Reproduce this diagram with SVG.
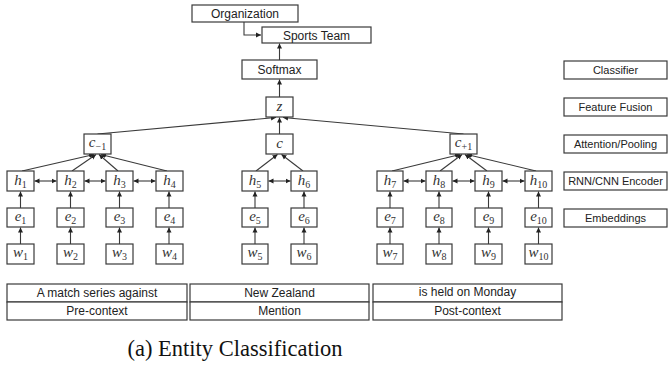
<svg xmlns="http://www.w3.org/2000/svg" width="668" height="366" viewBox="0 0 668 366">
<style>
.b{fill:#fff;stroke:#3a3a3a;stroke-width:1.2}
.t{font-family:"Liberation Sans",Arial,sans-serif;font-size:12px;fill:#222;text-anchor:middle}
.r{font-family:"Liberation Sans",Arial,sans-serif;font-size:11px;fill:#222;text-anchor:middle}
.m{font-family:"Liberation Serif","Times New Roman",serif;font-style:italic;font-size:15px;fill:#333;text-anchor:middle}
.s{font-size:10px;font-style:normal}
.cap{font-family:"Liberation Serif","Times New Roman",serif;font-size:22.5px;fill:#111;text-anchor:middle}
.l{stroke:#3a3a3a;stroke-width:1.1;fill:none}
</style>
<defs>
<marker id="a" markerUnits="userSpaceOnUse" markerWidth="6" markerHeight="6" refX="5" refY="3" orient="auto-start-reverse">
<path d="M0,0.5 L5,3 L0,5.5 z" fill="#222"/>
</marker>
</defs>

<g id="connectors">
<path class="l" d="M244,22 V35 H261" marker-end="url(#a)"/>
<line class="l" x1="279.5" y1="60" x2="279.5" y2="43.5" marker-end="url(#a)"/>
<line class="l" x1="279.5" y1="97" x2="279.5" y2="79.5" marker-end="url(#a)"/>
<line class="l" x1="97.5" y1="134" x2="276" y2="117.5" marker-end="url(#a)"/>
<line class="l" x1="279.5" y1="134" x2="279.5" y2="117.5" marker-end="url(#a)"/>
<line class="l" x1="463.5" y1="134" x2="283" y2="117.5" marker-end="url(#a)"/>
<line class="l" x1="22" y1="171" x2="94" y2="154.5" marker-end="url(#a)"/>
<line class="l" x1="72" y1="171" x2="96" y2="154.5" marker-end="url(#a)"/>
<line class="l" x1="118" y1="171" x2="99" y2="154.5" marker-end="url(#a)"/>
<line class="l" x1="167" y1="171" x2="101" y2="154.5" marker-end="url(#a)"/>
<line class="l" x1="256" y1="171" x2="277.5" y2="154.5" marker-end="url(#a)"/>
<line class="l" x1="303" y1="171" x2="281.5" y2="154.5" marker-end="url(#a)"/>
<line class="l" x1="392" y1="171" x2="460" y2="154.5" marker-end="url(#a)"/>
<line class="l" x1="440" y1="171" x2="462" y2="154.5" marker-end="url(#a)"/>
<line class="l" x1="487" y1="171" x2="465" y2="154.5" marker-end="url(#a)"/>
<line class="l" x1="536" y1="171" x2="467" y2="154.5" marker-end="url(#a)"/>
<line class="l" x1="34.5" y1="181" x2="56.5" y2="181" marker-start="url(#a)" marker-end="url(#a)"/>
<line class="l" x1="84.5" y1="181" x2="105.5" y2="181" marker-start="url(#a)" marker-end="url(#a)"/>
<line class="l" x1="133.5" y1="181" x2="155.5" y2="181" marker-start="url(#a)" marker-end="url(#a)"/>
<line class="l" x1="268.5" y1="181" x2="290.5" y2="181" marker-start="url(#a)" marker-end="url(#a)"/>
<line class="l" x1="403.5" y1="181" x2="425.5" y2="181" marker-start="url(#a)" marker-end="url(#a)"/>
<line class="l" x1="452.5" y1="181" x2="474.5" y2="181" marker-start="url(#a)" marker-end="url(#a)"/>
<line class="l" x1="502.5" y1="181" x2="524.5" y2="181" marker-start="url(#a)" marker-end="url(#a)"/>
<line class="l" x1="20.5" y1="208" x2="20.5" y2="191.5" marker-end="url(#a)"/>
<line class="l" x1="70.5" y1="208" x2="70.5" y2="191.5" marker-end="url(#a)"/>
<line class="l" x1="119.5" y1="208" x2="119.5" y2="191.5" marker-end="url(#a)"/>
<line class="l" x1="169" y1="208" x2="169" y2="191.5" marker-end="url(#a)"/>
<line class="l" x1="255" y1="208" x2="255" y2="191.5" marker-end="url(#a)"/>
<line class="l" x1="304" y1="208" x2="304" y2="191.5" marker-end="url(#a)"/>
<line class="l" x1="390" y1="208" x2="390" y2="191.5" marker-end="url(#a)"/>
<line class="l" x1="439" y1="208" x2="439" y2="191.5" marker-end="url(#a)"/>
<line class="l" x1="488.5" y1="208" x2="488.5" y2="191.5" marker-end="url(#a)"/>
<line class="l" x1="538.5" y1="208" x2="538.5" y2="191.5" marker-end="url(#a)"/>
<line class="l" x1="20.5" y1="244" x2="20.5" y2="227.5" marker-end="url(#a)"/>
<line class="l" x1="70.5" y1="244" x2="70.5" y2="227.5" marker-end="url(#a)"/>
<line class="l" x1="119.5" y1="244" x2="119.5" y2="227.5" marker-end="url(#a)"/>
<line class="l" x1="169" y1="244" x2="169" y2="227.5" marker-end="url(#a)"/>
<line class="l" x1="255" y1="244" x2="255" y2="227.5" marker-end="url(#a)"/>
<line class="l" x1="304" y1="244" x2="304" y2="227.5" marker-end="url(#a)"/>
<line class="l" x1="390" y1="244" x2="390" y2="227.5" marker-end="url(#a)"/>
<line class="l" x1="439" y1="244" x2="439" y2="227.5" marker-end="url(#a)"/>
<line class="l" x1="488.5" y1="244" x2="488.5" y2="227.5" marker-end="url(#a)"/>
<line class="l" x1="538.5" y1="244" x2="538.5" y2="227.5" marker-end="url(#a)"/>
</g>

<g id="organization"><rect class="b" x="192" y="5" width="106" height="17"/><text class="t" x="245" y="18">Organization</text></g>
<g id="sports-team"><rect class="b" x="262" y="27" width="109" height="16"/><text class="t" x="316.5" y="39.5">Sports Team</text></g>
<g id="softmax"><rect class="b" x="242" y="60" width="75" height="19"/><text class="t" x="279.5" y="74">Softmax</text></g>
<g id="z"><rect class="b" x="266" y="97" width="27" height="20"/><text class="m" x="279.5" y="111">z</text></g>
<g id="c"><rect class="b" x="266" y="134" width="27" height="20"/><text class="m" x="279.5" y="148">c</text></g>
<g id="c-1"><rect class="b" x="84" y="134" width="27" height="20"/><text class="m" x="97.5" y="147">c<tspan class="s" dy="3">−1</tspan></text></g>
<g id="c+1"><rect class="b" x="450" y="134" width="27" height="20"/><text class="m" x="463.5" y="147">c<tspan class="s" dy="3">+1</tspan></text></g>

<g id="h1"><rect class="b" x="7" y="171" width="27" height="20"/><text class="m" x="20.5" y="185">h<tspan class="s" dy="3">1</tspan></text></g>
<g id="h2"><rect class="b" x="57" y="171" width="27" height="20"/><text class="m" x="70.5" y="185">h<tspan class="s" dy="3">2</tspan></text></g>
<g id="h3"><rect class="b" x="106" y="171" width="27" height="20"/><text class="m" x="119.5" y="185">h<tspan class="s" dy="3">3</tspan></text></g>
<g id="h4"><rect class="b" x="156" y="171" width="27" height="20"/><text class="m" x="169.5" y="185">h<tspan class="s" dy="3">4</tspan></text></g>
<g id="h5"><rect class="b" x="242" y="171" width="26" height="20"/><text class="m" x="255" y="185">h<tspan class="s" dy="3">5</tspan></text></g>
<g id="h6"><rect class="b" x="291" y="171" width="26" height="20"/><text class="m" x="304" y="185">h<tspan class="s" dy="3">6</tspan></text></g>
<g id="h7"><rect class="b" x="377" y="171" width="26" height="20"/><text class="m" x="390" y="185">h<tspan class="s" dy="3">7</tspan></text></g>
<g id="h8"><rect class="b" x="426" y="171" width="26" height="20"/><text class="m" x="439" y="185">h<tspan class="s" dy="3">8</tspan></text></g>
<g id="h9"><rect class="b" x="475" y="171" width="27" height="20"/><text class="m" x="488.5" y="185">h<tspan class="s" dy="3">9</tspan></text></g>
<g id="h10"><rect class="b" x="525" y="171" width="27" height="20"/><text class="m" x="538.5" y="185">h<tspan class="s" dy="3">10</tspan></text></g>

<g id="e1"><rect class="b" x="7" y="208" width="27" height="19"/><text class="m" x="20.5" y="221">e<tspan class="s" dy="3">1</tspan></text></g>
<g id="e2"><rect class="b" x="57" y="208" width="27" height="19"/><text class="m" x="70.5" y="221">e<tspan class="s" dy="3">2</tspan></text></g>
<g id="e3"><rect class="b" x="106" y="208" width="27" height="19"/><text class="m" x="119.5" y="221">e<tspan class="s" dy="3">3</tspan></text></g>
<g id="e4"><rect class="b" x="156" y="208" width="27" height="19"/><text class="m" x="169.5" y="221">e<tspan class="s" dy="3">4</tspan></text></g>
<g id="e5"><rect class="b" x="242" y="208" width="26" height="19"/><text class="m" x="255" y="221">e<tspan class="s" dy="3">5</tspan></text></g>
<g id="e6"><rect class="b" x="291" y="208" width="26" height="19"/><text class="m" x="304" y="221">e<tspan class="s" dy="3">6</tspan></text></g>
<g id="e7"><rect class="b" x="377" y="208" width="26" height="19"/><text class="m" x="390" y="221">e<tspan class="s" dy="3">7</tspan></text></g>
<g id="e8"><rect class="b" x="426" y="208" width="26" height="19"/><text class="m" x="439" y="221">e<tspan class="s" dy="3">8</tspan></text></g>
<g id="e9"><rect class="b" x="475" y="208" width="27" height="19"/><text class="m" x="488.5" y="221">e<tspan class="s" dy="3">9</tspan></text></g>
<g id="e10"><rect class="b" x="525" y="208" width="27" height="19"/><text class="m" x="538.5" y="221">e<tspan class="s" dy="3">10</tspan></text></g>

<g id="w1"><rect class="b" x="7" y="244" width="27" height="20"/><text class="m" x="20.5" y="257">w<tspan class="s" dy="3">1</tspan></text></g>
<g id="w2"><rect class="b" x="57" y="244" width="27" height="20"/><text class="m" x="70.5" y="257">w<tspan class="s" dy="3">2</tspan></text></g>
<g id="w3"><rect class="b" x="106" y="244" width="27" height="20"/><text class="m" x="119.5" y="257">w<tspan class="s" dy="3">3</tspan></text></g>
<g id="w4"><rect class="b" x="156" y="244" width="27" height="20"/><text class="m" x="169.5" y="257">w<tspan class="s" dy="3">4</tspan></text></g>
<g id="w5"><rect class="b" x="242" y="244" width="26" height="20"/><text class="m" x="255" y="257">w<tspan class="s" dy="3">5</tspan></text></g>
<g id="w6"><rect class="b" x="291" y="244" width="26" height="20"/><text class="m" x="304" y="257">w<tspan class="s" dy="3">6</tspan></text></g>
<g id="w7"><rect class="b" x="377" y="244" width="26" height="20"/><text class="m" x="390" y="257">w<tspan class="s" dy="3">7</tspan></text></g>
<g id="w8"><rect class="b" x="426" y="244" width="26" height="20"/><text class="m" x="439" y="257">w<tspan class="s" dy="3">8</tspan></text></g>
<g id="w9"><rect class="b" x="475" y="244" width="27" height="20"/><text class="m" x="488.5" y="257">w<tspan class="s" dy="3">9</tspan></text></g>
<g id="w10"><rect class="b" x="525" y="244" width="27" height="20"/><text class="m" x="538.5" y="257">w<tspan class="s" dy="3">10</tspan></text></g>

<g id="pre-context">
<rect class="b" x="7" y="284" width="180" height="18"/><text class="t" x="97" y="297">A match series against</text>
<rect class="b" x="7" y="302" width="180" height="18"/><text class="t" x="97" y="315">Pre-context</text>
</g>
<g id="mention">
<rect class="b" x="190" y="284" width="179" height="18"/><text class="t" x="279.5" y="297">New Zealand</text>
<rect class="b" x="190" y="302" width="179" height="18"/><text class="t" x="279.5" y="315">Mention</text>
</g>
<g id="post-context">
<rect class="b" x="373" y="284" width="189" height="18"/><text class="t" x="467.5" y="296">is held on Monday</text>
<rect class="b" x="373" y="302" width="189" height="18"/><text class="t" x="467.5" y="315">Post-context</text>
</g>

<g id="classifier"><rect class="b" x="564" y="61" width="103" height="18"/><text class="r" x="615.5" y="74">Classifier</text></g>
<g id="feature-fusion"><rect class="b" x="564" y="98" width="103" height="18"/><text class="r" x="615.5" y="111">Feature Fusion</text></g>
<g id="attention-pooling"><rect class="b" x="564" y="135" width="103" height="18"/><text class="r" x="615.5" y="148">Attention/Pooling</text></g>
<g id="rnn-cnn-encoder"><rect class="b" x="564" y="172" width="103" height="18"/><text class="r" x="615.5" y="185">RNN/CNN Encoder</text></g>
<g id="embeddings"><rect class="b" x="564" y="209" width="103" height="18"/><text class="r" x="615.5" y="222">Embeddings</text></g>

<text class="cap" x="235" y="356">(a) Entity Classification</text>
</svg>
